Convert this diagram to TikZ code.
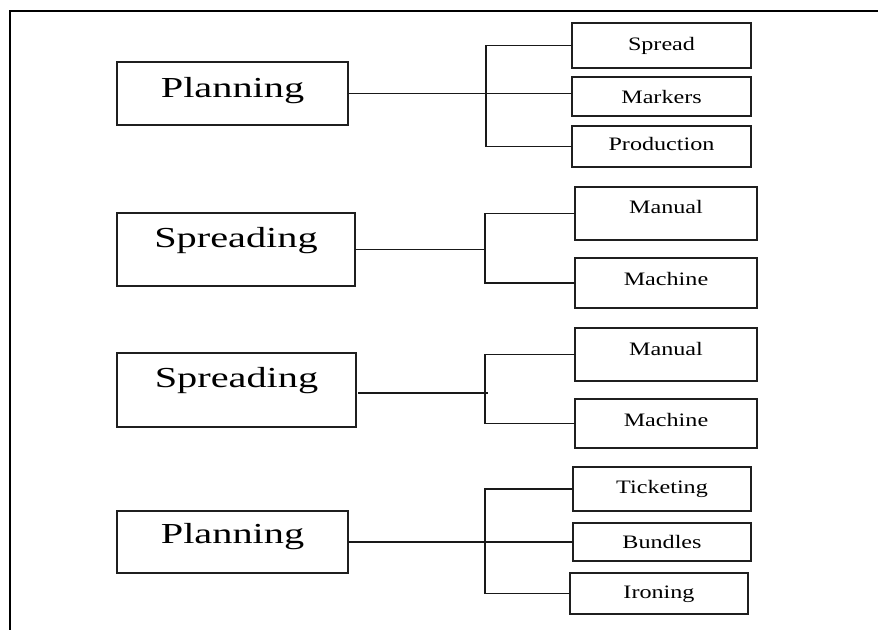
\documentclass[tikz,border=0pt]{standalone}
\usepackage{fontspec}
\setmainfont{Liberation Serif}
\newfontfamily\headfont[FakeStretch=1.39]{Liberation Serif}
\newfontfamily\itemfont[FakeStretch=1.27]{Liberation Serif}
\begin{document}
\begin{tikzpicture}[x=1pt,y=-1pt,
  box/.style={draw=black!88, line width=2.3pt, inner sep=0pt, outer sep=0pt},
  headtxt/.style={anchor=base, inner sep=0pt, font=\headfont\fontsize{29}{29}\selectfont},
  itemtxt/.style={anchor=base, inner sep=0pt, font=\itemfont\fontsize{19}{19}\selectfont},
  link/.style={draw=black!90, line width=1.8pt},
  frame/.style={draw=black, line width=2.6pt}]
\useasboundingbox (0,0) rectangle (878,630);

% outer frame: top rule and left rule
\coordinate (ftl) at (10,11);
\coordinate (ftr) at (878,11);
\coordinate (fbl) at (10,630);
\draw[frame] (ftr) -- (ftl) -- (fbl);

% ---------- group 1: Planning ----------
\node[box, minimum width=231pt, minimum height=63pt] (planA) at (232.5,93.5) {};
\node[headtxt] (planAt) at (232.5,97) {Planning};
\node[box, minimum width=179pt, minimum height=45pt] (spread) at (661.5,45.5) {};
\node[itemtxt] (spreadt) at (661.5,50) {Spread};
\node[box, minimum width=179pt, minimum height=39pt] (markers) at (661.5,96.5) {};
\node[itemtxt] (markerst) at (661.5,103) {Markers};
\node[box, minimum width=179pt, minimum height=41pt] (prod) at (661.5,146.5) {};
\node[itemtxt] (prodt) at (661.5,150) {Production};
\coordinate (busA) at (486,0);
\draw[link] (planA.east) -- (markers.west |- planA.east);
\draw[link] (spread.west) -- (busA |- spread.west) -- (busA |- prod.west) -- (prod.west);

% ---------- group 2: Spreading ----------
\node[box, minimum width=238pt, minimum height=73pt] (sprB) at (236,249.5) {};
\node[headtxt] (sprBt) at (236,247) {Spreading};
\node[box, minimum width=182pt, minimum height=53pt] (manB) at (666,213.5) {};
\node[itemtxt] (manBt) at (666,213) {Manual};
\node[box, minimum width=182pt, minimum height=50pt] (macB) at (666,283) {};
\node[itemtxt] (macBt) at (666,285) {Machine};
\coordinate (busB) at (485,0);
\draw[link] (sprB.east) -- (busB |- sprB.east);
\draw[link] (manB.west) -- (busB |- manB.west) -- (busB |- macB.west) -- (macB.west);

% ---------- group 3: Spreading ----------
\node[box, minimum width=239pt, minimum height=74pt] (sprC) at (236.5,390) {};
\node[headtxt] (sprCt) at (236.5,387) {Spreading};
\node[box, minimum width=182pt, minimum height=53pt] (manC) at (666,354.5) {};
\node[itemtxt] (manCt) at (666,355) {Manual};
\node[box, minimum width=182pt, minimum height=49pt] (macC) at (666,423.5) {};
\node[itemtxt] (macCt) at (666,426) {Machine};
\coordinate (busC) at (485,0);
\coordinate (stubC) at (488,393);
\draw[link] ([xshift=2pt]sprC.east |- stubC) -- (stubC);
\draw[link] (manC.west) -- (busC |- manC.west) -- (busC |- macC.west) -- (macC.west);

% ---------- group 4: Planning ----------
\node[box, minimum width=231pt, minimum height=62pt] (planD) at (232.5,542) {};
\node[headtxt] (planDt) at (232.5,543) {Planning};
\node[box, minimum width=178pt, minimum height=44pt] (tick) at (662,489) {};
\node[itemtxt] (tickt) at (662,493) {Ticketing};
\node[box, minimum width=178pt, minimum height=38pt] (bund) at (662,542) {};
\node[itemtxt] (bundt) at (662,548) {Bundles};
\node[box, minimum width=178pt, minimum height=41pt] (iron) at (659,593.5) {};
\node[itemtxt] (iront) at (659,598) {Ironing};
\coordinate (busD) at (485,0);
\draw[link] (planD.east) -- (bund.west |- planD.east);
\draw[link] (tick.west) -- (busD |- tick.west) -- (busD |- iron.west) -- (iron.west);
\end{tikzpicture}
\end{document}
